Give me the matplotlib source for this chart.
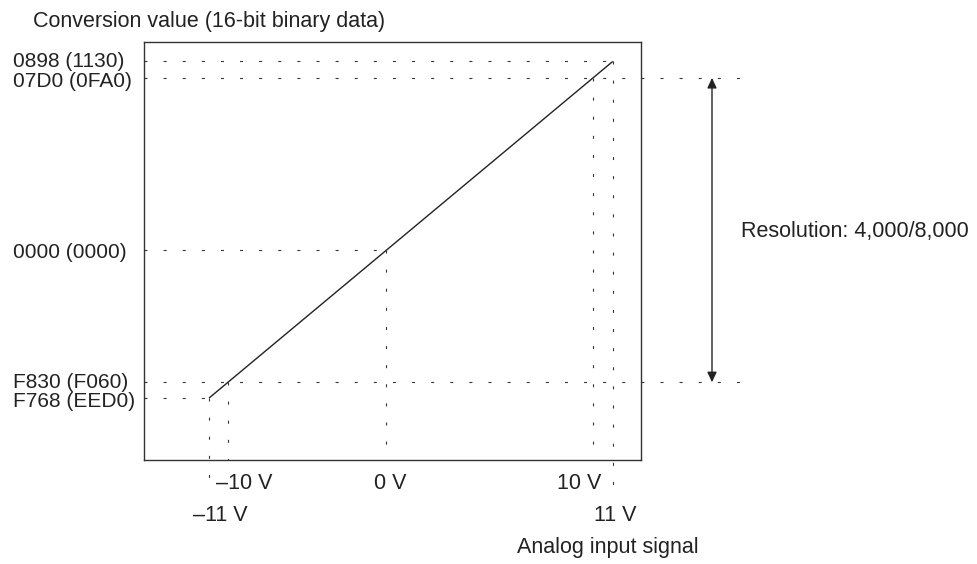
import matplotlib
matplotlib.use("Agg")
import matplotlib.pyplot as plt
import numpy as np

# Data.
volts = [-11, -10, 0, 10, 11]
codes = [-2200, -2000, 0, 2000, 2200]
code_labels = ["F768 (EED0)", "F830 (F060)", "0000 (0000)", "07D0 (0FA0)", "0898 (1130)"]
volt_labels = ["\u201311 V", "\u201310 V", "0 V", "10 V", "11 V"]
resolution_text = "Resolution: 4,000/8,000"

plt.rcParams["font.family"] = ["Liberation Sans", "DejaVu Sans"]
ink = "#222222"
dot_style = (0, (2.7, 14.5))

# The drawing is a schematic, not to scale: piecewise axis mapping
# (pixel offsets from the 0 V / 0000 point).
break_v = np.array([-100, -11, -10, 0, 10, 11, 100], dtype=float)
break_px = np.array([-177 - 89 * 19, -177, -158, 0, 207, 226.7, 226.7 + 89 * 19.7])
slope = 0.8338


def x_fwd(v):
	return np.interp(v, break_v, break_px)


def x_inv(p):
	return np.interp(p, break_px, break_v)


def y_fwd(c):
	return slope * x_fwd(np.asarray(c) / 200.0)


def y_inv(p):
	return 200.0 * x_inv(np.asarray(p) / slope)


fig = plt.figure(figsize=(9.77, 5.64), dpi=100)
ax = fig.add_axes([144 / 977, 104 / 564, 497 / 977, 418 / 564])
ax.set_xscale("function", functions=(x_fwd, x_inv))
ax.set_yscale("function", functions=(y_fwd, y_inv))

# Box limits in pixel offsets from the zero point (386, 250.5).
x_lo = float(x_inv(144 - 386))
x_hi = float(x_inv(641 - 386))
y_lo = float(y_inv(-(460 - 250.5)))
y_hi = float(y_inv(250.5 - 42))
y_ext = float(y_inv(-(492 - 250.5)))
ax.set_xlim(x_lo, x_hi)
ax.set_ylim(y_lo, y_hi)
ax.set_xticks([])
ax.set_yticks([])
for sp in ax.spines.values():
	sp.set_color("#333333")
	sp.set_linewidth(1.0)

# Conversion line.
ax.plot([volts[0], volts[-1]], [codes[0], codes[-1]], color=ink, lw=1.0,
	solid_capstyle="butt")

# Dotted guide lines.
row_ext = (743 - 144) / 497
for v, c in zip(volts, codes):
	if abs(v) == 10:
		ax.plot([0, row_ext], [c, c], transform=ax.get_yaxis_transform(),
			color="#333333", lw=0.8, ls=dot_style, clip_on=False)
	else:
		ax.plot([x_lo, v], [c, c], color="#333333", lw=0.8, ls=dot_style,
			clip_on=False)
	bottom = y_ext if abs(v) == 11 else y_lo
	ax.plot([v, v], [c, bottom], color="#333333", lw=0.8, ls=dot_style,
		clip_on=False)

# Left labels, nudged a touch apart where rows sit close together.
label_nudge = {-2200: -6.2, -2000: -4.2, 0: -5.2, 2000: -6.2, 2200: -4.2}
for c, lab in zip(codes, code_labels):
	ax.annotate(lab, xy=((13 - 144) / 497, c),
		xycoords=("axes fraction", "data"), xytext=(0, label_nudge[c]),
		textcoords="offset points", ha="left", va="baseline",
		fontsize=15, color=ink)

# Bottom labels: (x offset px, baseline px below box bottom).
label_pos = {-11: (11, 61), -10: (16, 29), 0: (4, 29), 10: (-14, 29), 11: (3, 61)}
for v, lab in zip(volts, volt_labels):
	dx, dy = label_pos[v]
	ax.annotate(lab, xy=(v, 0), xycoords=("data", "axes fraction"),
		xytext=(dx * 0.72, -dy * 0.72), textcoords="offset points",
		ha="center", va="baseline", fontsize=15.5, color=ink)

# Resolution arrow.
arrow_x = (712 - 144) / 497
ax.annotate("", xy=(arrow_x, codes[1]), xytext=(arrow_x, codes[3]),
	xycoords=("axes fraction", "data"),
	arrowprops=dict(arrowstyle="<|-|>,head_length=0.6,head_width=0.28",
		mutation_scale=10, color=ink, lw=1.0, shrinkA=0, shrinkB=0))
fig.text(741 / 977, 1 - 237 / 564, resolution_text, ha="left", va="baseline",
	fontsize=15.5, color=ink)

fig.text(33 / 977, 1 - 26.7 / 564, "Conversion value (16-bit binary data)",
	ha="left", va="baseline", fontsize=15.5, color=ink)
fig.text(517 / 977, 1 - 552.7 / 564, "Analog input signal", ha="left",
	va="baseline", fontsize=15.5, color=ink)

fig.savefig("out.png", dpi=100)
plt.close("all")
